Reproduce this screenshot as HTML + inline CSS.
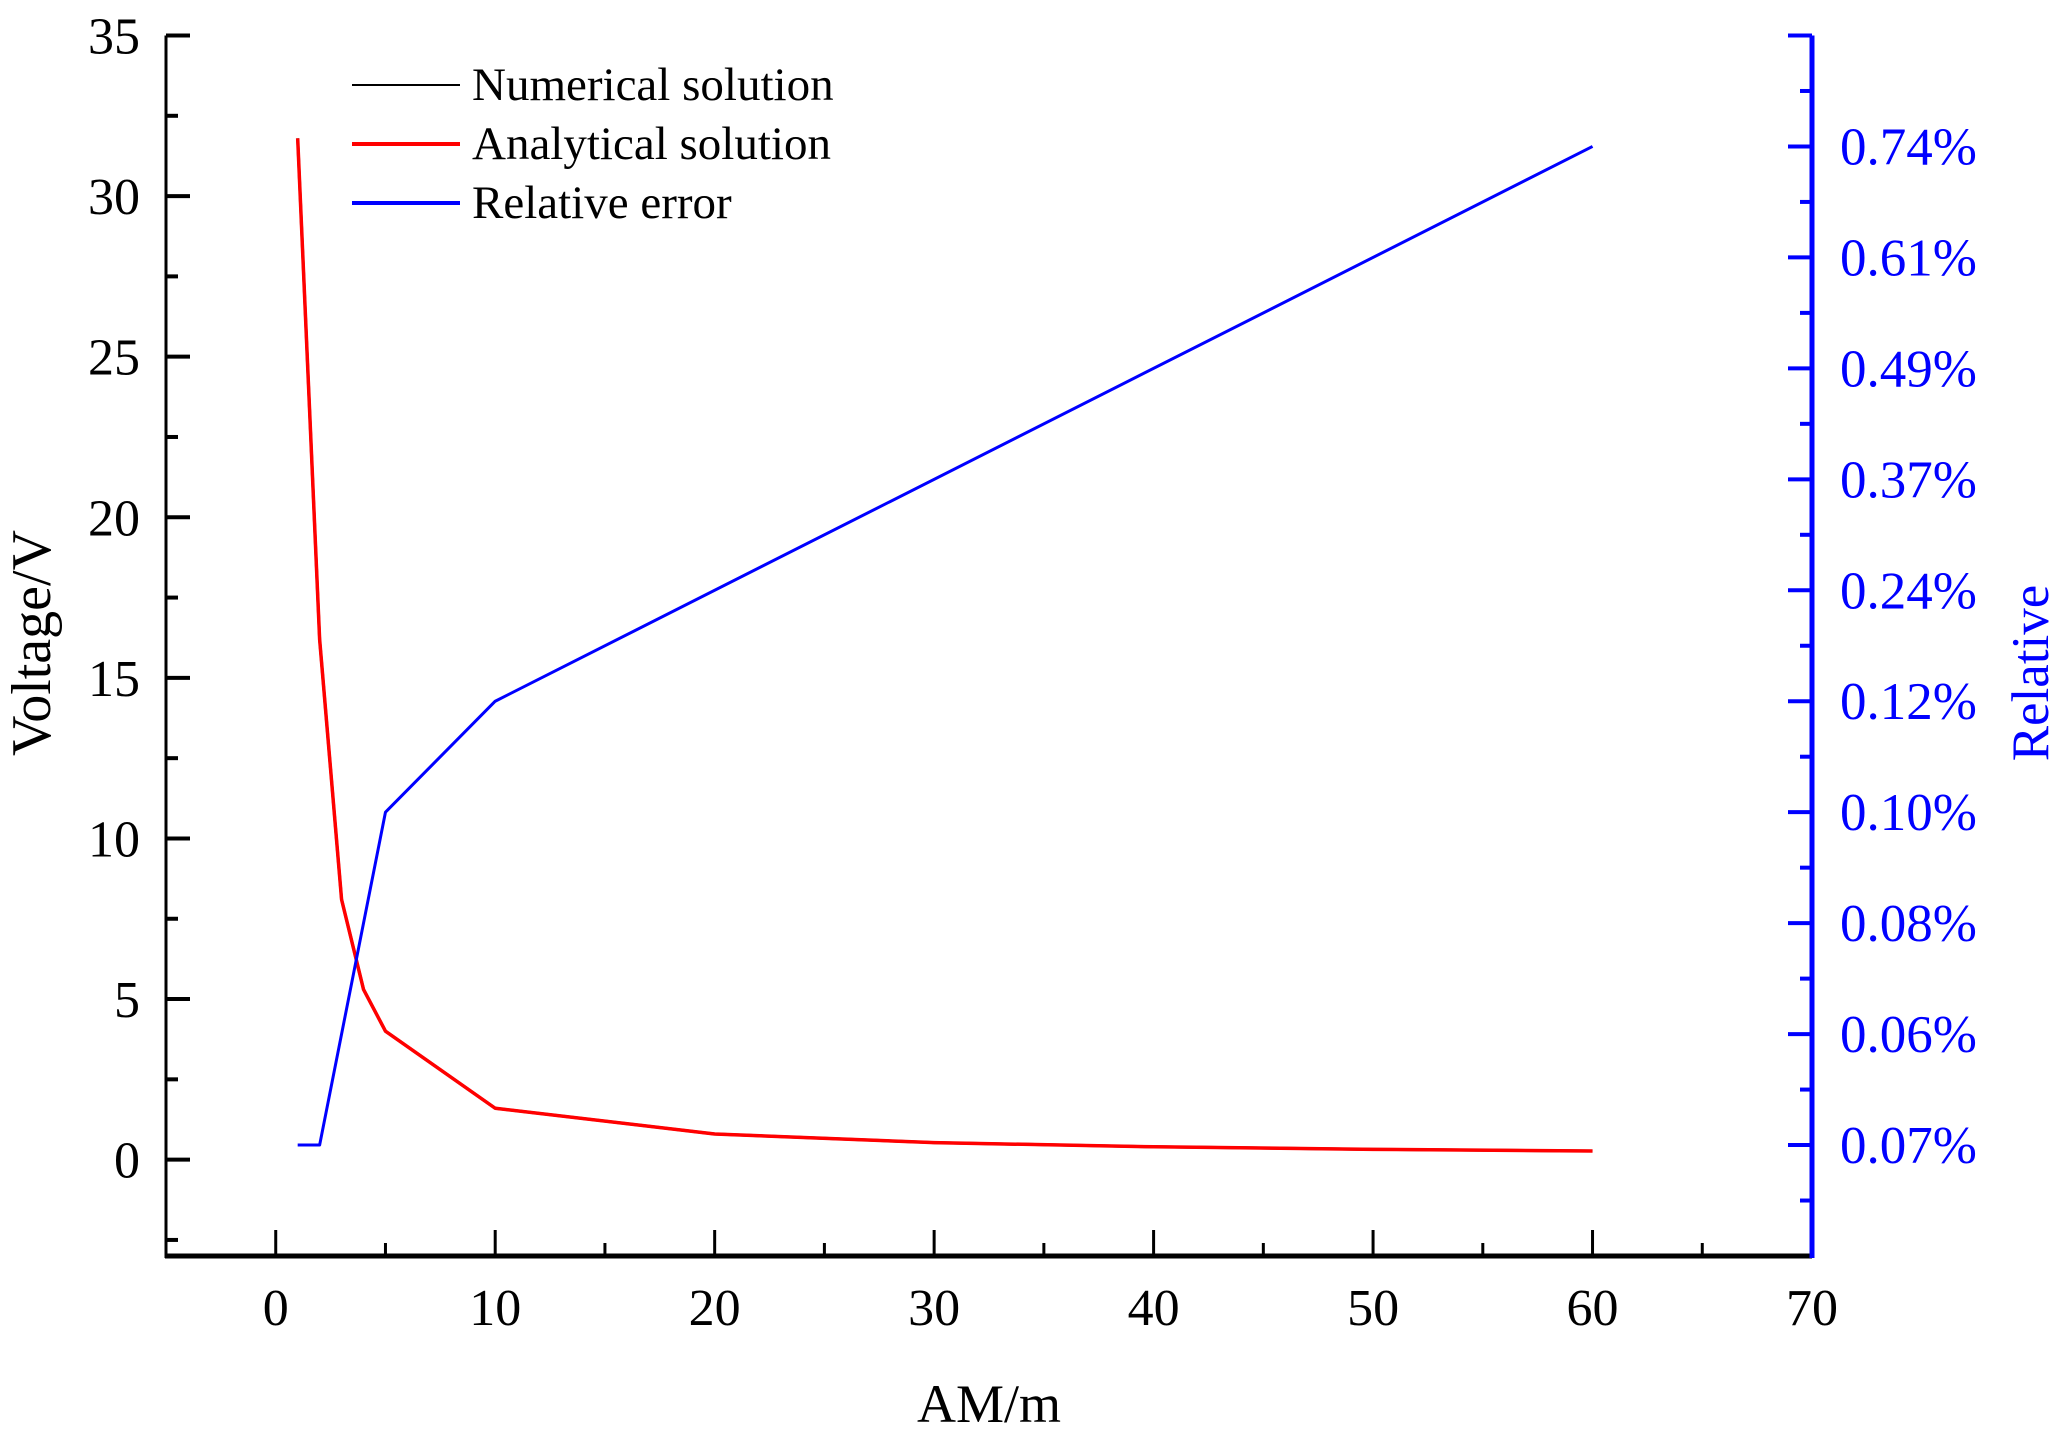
<!DOCTYPE html>
<html><head><meta charset="utf-8"><style>
html,body{margin:0;padding:0;background:#fff;}
svg{display:block;font-family:"Liberation Serif",serif;}
</style></head><body>
<svg id="chart" width="2062" height="1434" viewBox="0 0 2062 1434" xmlns="http://www.w3.org/2000/svg">
<g id="axes"></g>
<g id="series"></g>
<g id="legend">
  <line x1="352" y1="85" x2="460" y2="85" stroke="#000" stroke-width="2"/>
  <text x="472" y="100" font-size="47">Numerical solution</text>
  <line x1="352" y1="144" x2="460" y2="144" stroke="#f00" stroke-width="4"/>
  <text x="472" y="159" font-size="47">Analytical solution</text>
  <line x1="352" y1="203" x2="460" y2="203" stroke="#00f" stroke-width="4"/>
  <text x="472" y="218" font-size="47">Relative error</text>
</g>
<text x="989" y="1422" font-size="54" text-anchor="middle">AM/m</text>
<text transform="translate(50,643) rotate(-90)" font-size="56" text-anchor="middle">Voltage/V</text>
<text transform="translate(2048,673) rotate(-90)" font-size="53" text-anchor="middle" fill="#00f">Relative</text>
</svg>
<script>
const xValues = [1, 2, 3, 4, 5, 10, 20, 30, 40, 50, 60];
const numericalValues = [31.8, 16.2, 8.1, 5.3, 4.0, 1.6, 0.8, 0.53, 0.4, 0.32, 0.27];
const analyticalValues = [31.8, 16.2, 8.1, 5.3, 4.0, 1.6, 0.8, 0.53, 0.4, 0.32, 0.27];
const errorX = [1, 2, 5, 10, 60];
const errorValues = [0, 0, 3, 4, 9];
const xTicks = [0, 10, 20, 30, 40, 50, 60, 70];
const yTicks = [0, 5, 10, 15, 20, 25, 30, 35];
const rightTickLabels = ["0.07%", "0.06%", "0.08%", "0.10%", "0.12%", "0.24%", "0.37%", "0.49%", "0.61%", "0.74%"];

const NS = "http://www.w3.org/2000/svg";
const X0 = 166, X1 = 1812, xmin = -5, xmax = 70;
const Y0 = 1256, Y1 = 35.5, ymin = -3, ymax = 35;
const R0 = 1256, rmin = -1, rmax = 10.0;
const xs = v => X0 + (v - xmin) / (xmax - xmin) * (X1 - X0);
const ys = v => Y0 - (v - ymin) / (ymax - ymin) * (Y0 - Y1);
const rs = v => R0 - (v - rmin) / (rmax - rmin) * (R0 - Y1);
function mk(tag, attrs, parent) {
  const e = document.createElementNS(NS, tag);
  for (const k in attrs) e.setAttribute(k, attrs[k]);
  parent.appendChild(e);
  return e;
}
const axes = document.getElementById("axes");
const series = document.getElementById("series");

let l = mk("line", {x1: X0, y1: Y1, x2: X0, y2: Y0 + 2, stroke: "#000", "stroke-width": 3}, axes);


for (let v = -2.5; v <= 35; v += 2.5) {
  const major = Math.abs(v % 5) < 1e-9;
  const t = mk("line", {x1: X0, y1: ys(v), x2: X0 + (major ? 24 : 12), y2: ys(v), stroke: "#000", "stroke-width": 4}, axes);
  
  
}
yTicks.forEach(v => {
  const t = mk("text", {x: 140, y: ys(v) + 18, "font-size": 52, "text-anchor": "end"}, axes);
  t.textContent = v;
  
  
});
l = mk("line", {x1: X0 - 1, y1: Y0, x2: X1, y2: Y0, stroke: "#000", "stroke-width": 5}, axes);


for (let v = 0; v <= 65; v += 5) {
  const major = v % 10 === 0;
  const t = mk("line", {x1: xs(v), y1: Y0, x2: xs(v), y2: Y0 - (major ? 26 : 13), stroke: "#000", "stroke-width": 3}, axes);
  
  
}
xTicks.forEach(v => {
  const t = mk("text", {x: xs(v), y: 1325, "font-size": 52, "text-anchor": "middle"}, axes);
  t.textContent = v;
  
  
});
l = mk("line", {x1: X1, y1: Y1, x2: X1, y2: Y0 + 2, stroke: "#00f", "stroke-width": 5}, axes);


for (let v = -0.5; v <= 10; v += 0.5) {
  const major = Math.abs(v % 1) < 1e-9;
  const t = mk("line", {x1: X1, y1: rs(v), x2: X1 - (major ? 24 : 12), y2: rs(v), stroke: "#00f", "stroke-width": 4}, axes);
  
  
}
rightTickLabels.forEach((s, i) => {
  const t = mk("text", {x: 1840, y: rs(i) + 18, "font-size": 53, fill: "#00f"}, axes);
  t.textContent = s;
  
  
});
function poly(xa, ya, sc, color, w, name) {
  const p = mk("polyline", {points: xa.map((x, i) => xs(x) + "," + sc(ya[i])).join(" "), fill: "none", stroke: color, "stroke-width": w, "stroke-linejoin": "round"}, series);
  
  
}
poly(xValues, numericalValues, ys, "#000", 3, "numerical-line");
poly(xValues, analyticalValues, ys, "#f00", 3.5, "analytical-line");
poly(errorX, errorValues, rs, "#00f", 3, "relative-error-line");
</script>
</body></html>
